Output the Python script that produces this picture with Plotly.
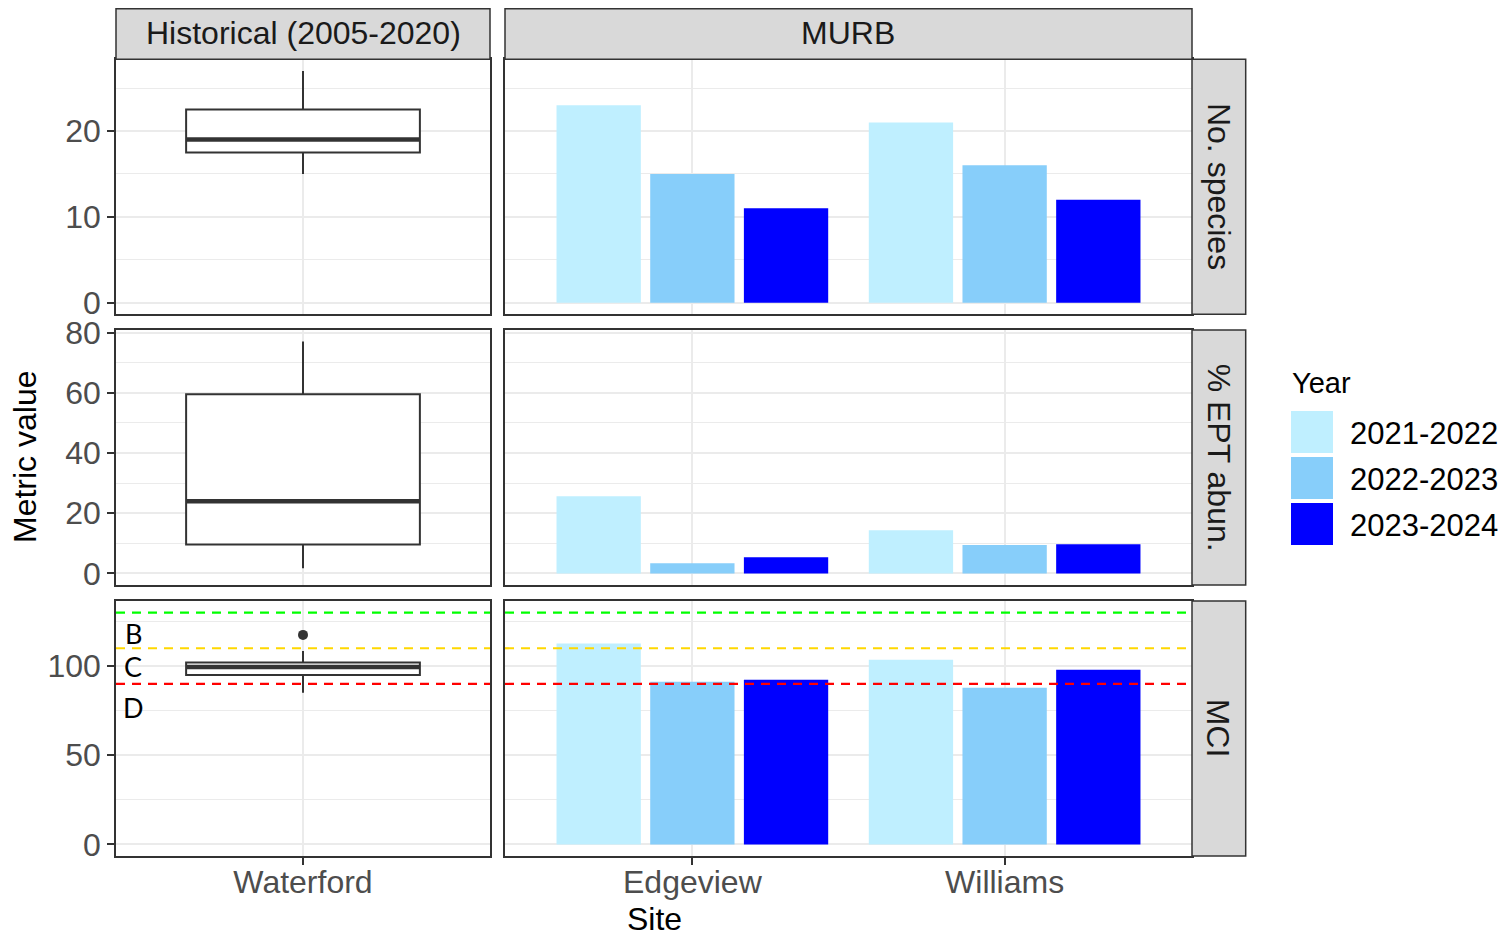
import plotly.graph_objects as go
from plotly.subplots import make_subplots

# ---------------- data ----------------
sites = ["Edgeview", "Williams"]
site_pos = [1, 2]
hist_site = ["Waterford"]
hist_pos = [1]
years = ["2021-2022", "2022-2023", "2023-2024"]
year_colors = ["#BFEFFF", "#87CEFA", "#0000FF"]
metrics = ["No. species", "% EPT abun.", "MCI"]

species_2021_22 = [23, 21]
species_2022_23 = [15, 16]
species_2023_24 = [11, 12]
ept_2021_22 = [25.6, 14.3]
ept_2022_23 = [3.4, 9.4]
ept_2023_24 = [5.4, 9.7]
mci_2021_22 = [112.7, 103.5]
mci_2022_23 = [91.2, 87.8]
mci_2023_24 = [92.3, 98.0]

# historical box stats: [lower whisker, q1, median, q3, upper whisker]
hist_species_stats = [15, 17.5, 19, 22.5, 27]
hist_ept_stats = [1.7, 9.6, 24, 59.5, 77]
hist_mci_stats = [85, 95, 99.5, 102, 108.5]
hist_mci_outliers = [117.5]

mci_thresholds = [130, 110, 90]
threshold_colors = ["#00FF00", "#FFD700", "#FF0000"]
grade_labels = ["B", "C", "D"]
grade_label_y = [118, 100, 77]

y_major = [[0, 10, 20], [0, 20, 40, 60, 80], [0, 50, 100]]
y_minor = [[5, 15, 25], [10, 30, 50, 70], [25, 75, 125]]

# ---------------- layout helpers ----------------
W, H = 1506, 935
OFF = 8  # page body margin offset
FONT = "Liberation Sans, Arial, sans-serif"
FS = 32
def fx(p):
    return (p - OFF) / W
def fy(p):
    return 1 - (p - OFF) / H

col_px = [(116, 490), (505, 1192)]
row_px = [(59.3, 314.3), (330, 585), (601, 856)]
strip_top = 8.8
strip_right = 1245.7

fig = make_subplots(rows=3, cols=2)

row_bars = [
    [species_2021_22, species_2022_23, species_2023_24],
    [ept_2021_22, ept_2022_23, ept_2023_24],
    [mci_2021_22, mci_2022_23, mci_2023_24],
]
row_stats = [hist_species_stats, hist_ept_stats, hist_mci_stats]
row_outliers = [[], [], hist_mci_outliers]
box_width = 0.75

for r in range(3):
    st = row_stats[r]
    fig.add_trace(go.Box(
        x=hist_pos, lowerfence=[st[0]], q1=[st[1]], median=[st[2]], q3=[st[3]],
        upperfence=[st[4]], width=box_width, fillcolor="white",
        line=dict(color="#333333", width=2), whiskerwidth=0, boxpoints=False,
        showlegend=False, hoverinfo="skip"), row=r + 1, col=1)
    fig.add_trace(go.Scatter(
        x=[hist_pos[0] - box_width / 2, hist_pos[0] + box_width / 2],
        y=[st[2], st[2]], mode="lines", line=dict(color="#333333", width=4.5),
        showlegend=False, hoverinfo="skip"), row=r + 1, col=1)
    if row_outliers[r]:
        fig.add_trace(go.Scatter(
            x=hist_pos * len(row_outliers[r]), y=row_outliers[r], mode="markers",
            marker=dict(color="#333333", size=10), showlegend=False,
            hoverinfo="skip"), row=r + 1, col=1)
    for k, vals in enumerate(row_bars[r]):
        fig.add_trace(go.Bar(
            x=site_pos, y=vals, name=years[k], marker_color=year_colors[k],
            marker_line_width=0, offsetgroup=str(k), showlegend=False),
            row=r + 1, col=2)

fig.update_layout(barmode="group", bargap=0.1, bargroupgap=0.1)

# MCI threshold lines
for v, c in zip(mci_thresholds, threshold_colors):
    for col in (1, 2):
        fig.add_hline(y=v, line=dict(color=c, dash="9px,7px", width=2.2),
                      row=3, col=col)

# grade labels
for t, yv in zip(grade_labels, grade_label_y):
    fig.add_annotation(x=0.456, y=yv, xref="x5", yref="y5", text=t,
                       showarrow=False, xanchor="center", yanchor="middle",
                       font=dict(family="Lato, Open Sans, sans-serif",
                                 size=27, color="black"))

# axes
grid = "#EBEBEB"
for r in range(3):
    vals_all = [0] + row_stats[r] + [v for s in row_bars[r] for v in s] + row_outliers[r]
    if r == 2:
        vals_all += mci_thresholds
    lo, hi = min(vals_all), max(vals_all)
    pad = 0.05 * (hi - lo)
    yr = [lo - pad, hi + pad]
    for c in range(2):
        xr = [0.4, 1.6] if c == 0 else [0.4, 2.6]
        tv = hist_pos if c == 0 else site_pos
        tt = hist_site if c == 0 else sites
        bottom = (r == 2)
        fig.update_xaxes(
            domain=[fx(col_px[c][0]), fx(col_px[c][1])], range=xr,
            tickvals=tv, ticktext=tt, showticklabels=bottom, automargin=False,
            ticks="outside" if bottom else "", ticklen=7, tickwidth=1.5,
            ticklabelstandoff=-10,
            tickcolor="#333333", showgrid=True, gridcolor=grid, gridwidth=2,
            zeroline=False, showline=True, mirror=True, linecolor="#333333",
            linewidth=1.5, tickfont=dict(family=FONT, size=FS, color="#4D4D4D"),
            row=r + 1, col=c + 1)
        fig.update_yaxes(
            domain=[fy(row_px[r][1]), fy(row_px[r][0])], range=yr,
            tickvals=y_major[r], showticklabels=(c == 0), automargin=False,
            ticks="outside" if c == 0 else "", ticklen=7, tickwidth=1.5,
            tickcolor="#333333", showgrid=True, gridcolor=grid, gridwidth=2,
            minor=dict(tickvals=y_minor[r], showgrid=True, gridcolor=grid,
                       gridwidth=1),
            zeroline=False, showline=True, mirror=True, linecolor="#333333",
            linewidth=1.5, tickfont=dict(family=FONT, size=FS, color="#4D4D4D"),
            row=r + 1, col=c + 1)

shapes = []
annots = []
strip_fill = "#D9D9D9"
strip_line = dict(color="#333333", width=1.5)
def text_ann(x, y, text, size=FS, color="black", angle=0, xanchor="center"):
    return dict(xref="paper", yref="paper", x=x, y=y, text=text,
                showarrow=False, xanchor=xanchor, yanchor="middle",
                textangle=angle, font=dict(family=FONT, size=size, color=color))

# top strips
top_labels = ["Historical (2005-2020)", "MURB"]
for c in range(2):
    shapes.append(dict(type="rect", xref="paper", yref="paper",
                       x0=fx(col_px[c][0]), x1=fx(col_px[c][1]),
                       y0=fy(row_px[0][0]), y1=fy(strip_top),
                       fillcolor=strip_fill, line=strip_line, layer="above"))
    annots.append(text_ann(fx((col_px[c][0] + col_px[c][1]) / 2),
                           fy(33), top_labels[c], color="#1A1A1A"))
# right strips
for r in range(3):
    shapes.append(dict(type="rect", xref="paper", yref="paper",
                       x0=fx(col_px[1][1]), x1=fx(strip_right),
                       y0=fy(row_px[r][1]), y1=fy(row_px[r][0]),
                       fillcolor=strip_fill, line=strip_line, layer="above"))
    annots.append(text_ann(fx((col_px[1][1] + strip_right) / 2),
                           fy((row_px[r][0] + row_px[r][1]) / 2),
                           metrics[r], color="#1A1A1A", angle=90))

# axis titles
annots.append(text_ann(fx(654), fy(919), "Site"))
annots.append(text_ann(fx(25), fy(457), "Metric value", angle=-90))

# legend (drawn manually to match large ggplot keys)
annots.append(text_ann(fx(1290), fy(383), "Year", size=29, xanchor="left"))
key_tops = [411, 457, 503]
for k in range(3):
    shapes.append(dict(type="rect", xref="paper", yref="paper",
                       x0=fx(1291), x1=fx(1333),
                       y0=fy(key_tops[k] + 42), y1=fy(key_tops[k]),
                       fillcolor=year_colors[k], line=dict(width=0)))
    annots.append(text_ann(fx(1348), fy(key_tops[k] + 22), years[k],
                           size=FS - 1, xanchor="left"))

fig.update_layout(
    shapes=list(fig.layout.shapes) + shapes,
    annotations=list(fig.layout.annotations) + annots,
    width=W, height=H, margin=dict(l=0, r=0, t=0, b=0, pad=0),
    plot_bgcolor="white", paper_bgcolor="white", showlegend=False,
    font=dict(family=FONT),
)

fig.write_html("out.html")
